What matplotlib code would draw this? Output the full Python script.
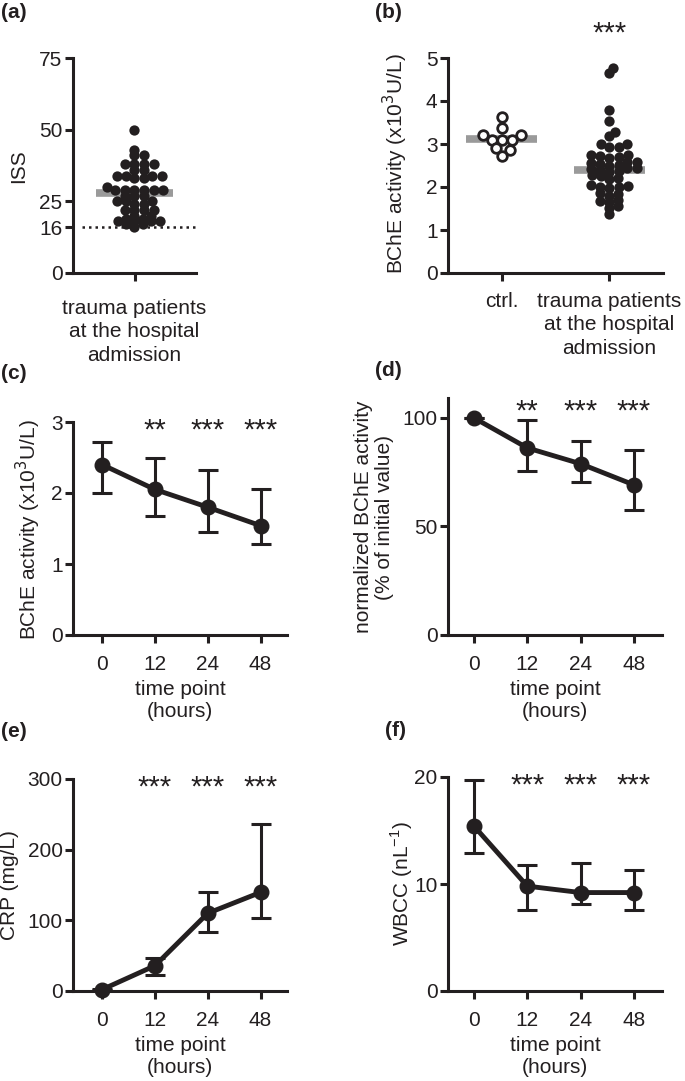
import numpy as np
import matplotlib
matplotlib.use("Agg")
import matplotlib.pyplot as plt

W, H = 685, 1081
plt.rcParams['font.family'] = ['Liberation Sans', 'DejaVu Sans']
plt.rcParams['font.size'] = 15
INK = '#231f20'
GREY = '#9a9a9a'

# (a) injury severity score at admission
iss = [50, 43, 41, 41, 38, 38, 38, 38, 36, 36, 34, 34, 34, 34, 33, 33, 30,
       29, 29, 29, 29, 29, 29, 27, 27, 27, 25, 25, 25, 24, 24,
       22, 22, 22, 22, 20, 20, 19, 19, 18, 18, 18, 18, 17, 17, 16]
iss_center = 28
iss_cutoff = 16

# (b) BChE activity, controls vs trauma patients
bche_ctrl = [3.62, 3.38, 3.20, 3.20, 3.10, 3.10, 3.10, 2.90, 2.85, 2.73]
bche_trauma = [4.76, 4.64, 3.79, 3.53, 3.28, 3.18, 3.00, 2.99, 2.94, 2.93,
               2.75, 2.74, 2.72, 2.70, 2.68,
               2.58, 2.57, 2.55, 2.53, 2.52, 2.50,
               2.45, 2.44, 2.42, 2.40, 2.38, 2.36,
               2.28, 2.25, 2.22, 2.18,
               2.05, 2.02, 2.00, 1.99, 1.98,
               1.85, 1.83, 1.80,
               1.69, 1.67, 1.64,
               1.55, 1.51, 1.37]
bche_center = [3.12, 2.40]
group_labels = ['ctrl.', 'trauma patients\nat the hospital\nadmission']

# (c)-(f) time course, median with interquartile range
time_labels = ['0', '12', '24', '48']
bche_med = [2.40, 2.05, 1.80, 1.54]
bche_lo = [2.00, 1.67, 1.45, 1.28]
bche_hi = [2.72, 2.50, 2.32, 2.05]

norm_med = [100, 86.2, 78.9, 69.2]
norm_lo = [100, 75.4, 70.3, 57.4]
norm_hi = [100, 99.2, 89.2, 85.1]

crp_med = [2, 35.8, 110, 139.6]
crp_lo = [1, 22.6, 83, 102.8]
crp_hi = [3, 46, 140.6, 236.3]

wbcc_med = [15.4, 9.8, 9.2, 9.2]
wbcc_lo = [12.9, 7.6, 8.1, 7.6]
wbcc_hi = [19.7, 11.8, 12.0, 11.3]

stars_bche = ['', '**', '***', '***']
stars_all = ['', '***', '***', '***']

fig = plt.figure(figsize=(W / 100, H / 100), dpi=100)


def add_axes(left, top, right, bottom):
    return fig.add_axes([left / W, 1 - bottom / H, (right - left) / W, (bottom - top) / H])


def style(ax):
    for s in ['top', 'right']:
        ax.spines[s].set_visible(False)
    for s in ['left', 'bottom']:
        ax.spines[s].set_linewidth(2.2)
        ax.spines[s].set_color(INK)
    ax.tick_params(width=2.2, length=5.5, color=INK, labelcolor=INK, labelsize=15, pad=2)
    ax.tick_params(axis='x', pad=9)


def put_text(x, y, s, **kw):
    fig.text(x / W, 1 - y / H, s, color=INK, **kw)


def swarm_x(ax, center, values, d, k):
    # Prism-like scatter: offsets worked out in pixels (vertical gaps count k times), mapped back to data
    pts = ax.transData.transform(np.column_stack([np.full(len(values), center), values]))
    ys = pts[:, 1]
    x0 = pts[0, 0]
    placed = []
    xs = np.zeros(len(values))
    for i in np.argsort(ys):
        y = ys[i]
        cands = [0.0]
        for px, py in placed:
            dy = k * (y - py)
            if abs(dy) < d:
                dx = np.sqrt(d * d - dy * dy)
                cands += [px + dx, px - dx]
        cands.sort(key=abs)
        for c in cands:
            if all((c - px) ** 2 + (k * (y - py)) ** 2 >= d * d - 1e-6 for px, py in placed):
                break
        placed.append((c, y))
        xs[i] = c
    return ax.transData.inverted().transform(np.column_stack([x0 + xs, ys]))[:, 0]


def stars(ax, labels, y):
    for i, s in enumerate(labels):
        if s:
            ax.annotate(s, xy=(i, y), xytext=(0, -12), textcoords='offset points',
                        ha='center', va='baseline', fontsize=21, color=INK,
                        annotation_clip=False)


# ---- (a)
ax = add_axes(73, 58, 196, 273)
style(ax)
ax.set_xlim(-1, 1)
ax.set_ylim(0, 75)
ax.set_yticks([0, 16, 25, 50, 75])
ax.set_xticks([0])
ax.set_xticklabels([group_labels[1]], linespacing=1.3)
ax.tick_params(axis='x', pad=13)
ax.plot([-0.62, 0.62], [iss_center] * 2, color=GREY, lw=5.5, solid_capstyle='butt', zorder=1)
ax.plot([-0.85, 1.0], [iss_cutoff] * 2, color=INK, lw=1.8, ls=(0, (1, 1.6)), zorder=1)
ax.scatter(swarm_x(ax, 0, iss, 9.5, 1.7), iss, s=55, color=INK, linewidths=0, zorder=3,
           clip_on=False)
put_text(19, 166, 'ISS', rotation=90, ha='center', va='center')
put_text(1, 3, '(a)', fontweight='bold', ha='left', va='top')

# ---- (b)
ax = add_axes(448, 58, 663, 273)
style(ax)
ax.set_xlim(-0.5, 1.5)
ax.set_ylim(0, 5)
ax.set_yticks(range(6))
ax.set_xticks([0, 1])
ax.set_xticklabels(group_labels, linespacing=1.3)
ax.tick_params(axis='x', pad=8)
for i, c in enumerate(bche_center):
    ax.plot([i - 0.33, i + 0.33], [c, c], color=GREY, lw=5.5, solid_capstyle='butt', zorder=1)
ax.scatter(swarm_x(ax, 0, bche_ctrl, 10, 1.1), bche_ctrl, s=48, facecolor='white',
           edgecolor=INK, linewidths=2, zorder=3)
ax.scatter(swarm_x(ax, 1, bche_trauma, 9.5, 1.7), bche_trauma, s=55, color=INK,
           linewidths=0, zorder=3, clip_on=False)
ax.annotate('***', xy=(1, 5), xytext=(0, 11.5), textcoords='offset points',
            ha='center', va='baseline', fontsize=21, color=INK, annotation_clip=False)
put_text(395, 164, 'BChE activity (x10$^3$U/L)', rotation=90, ha='center', va='center')
put_text(375, 3, '(b)', fontweight='bold', ha='left', va='top')


def time_panel(box, med, lo, hi, ylim, yticks, star_labels, star_y):
    ax = add_axes(*box)
    style(ax)
    x = np.arange(len(time_labels))
    yerr = [np.subtract(med, lo), np.subtract(hi, med)]
    ax.errorbar(x, med, yerr=yerr, fmt='-o', color=INK, lw=3.5, ms=10.5,
                elinewidth=2.2, capsize=7, capthick=2.2, clip_on=False, zorder=3)
    ax.set_ylim(*ylim)
    ax.set_yticks(yticks)
    ax.set_xticks(x)
    ax.set_xticklabels(time_labels)
    ax.set_xlabel('time point\n(hours)', color=INK, labelpad=4, linespacing=1.25)
    stars(ax, star_labels, star_y)
    return ax


# ---- (c)
ax = time_panel((73, 422, 287, 635), bche_med, bche_lo, bche_hi, (0, 3), [0, 1, 2, 3],
                stars_bche, 3.0)
ax.set_xlim(-0.55, 3.5)
put_text(28, 530, 'BChE activity (x10$^3$U/L)', rotation=90, ha='center', va='center')
put_text(1, 364, '(c)', fontweight='bold', ha='left', va='top')

# ---- (d)
ax = time_panel((448, 398, 662, 635), norm_med, norm_lo, norm_hi, (0, 109.2), [0, 50, 100],
                stars_bche, 107)
ax.set_xlim(-0.49, 3.53)
put_text(374, 517, 'normalized BChE activity\n(% of initial value)', rotation=90,
         ha='center', va='center', linespacing=1.1)
put_text(375, 361, '(d)', fontweight='bold', ha='left', va='top')

# ---- (e)
ax = time_panel((73, 779, 287, 991), crp_med, crp_lo, crp_hi, (0, 300), [0, 100, 200, 300],
                stars_all, 300)
ax.set_xlim(-0.55, 3.5)
put_text(10, 885, 'CRP (mg/L)', rotation=90, ha='center', va='center')
put_text(1, 722, '(e)', fontweight='bold', ha='left', va='top')

# ---- (f)
ax = time_panel((448, 777, 662, 991), wbcc_med, wbcc_lo, wbcc_hi, (0, 20), [0, 10, 20],
                stars_all, 20)
ax.set_xlim(-0.49, 3.53)
put_text(402, 884, 'WBCC (nL$^{\\mathregular{-1}}$)', rotation=90, ha='center', va='center')
put_text(385, 721, '(f)', fontweight='bold', ha='left', va='top')

fig.savefig('out.png', dpi=100)
